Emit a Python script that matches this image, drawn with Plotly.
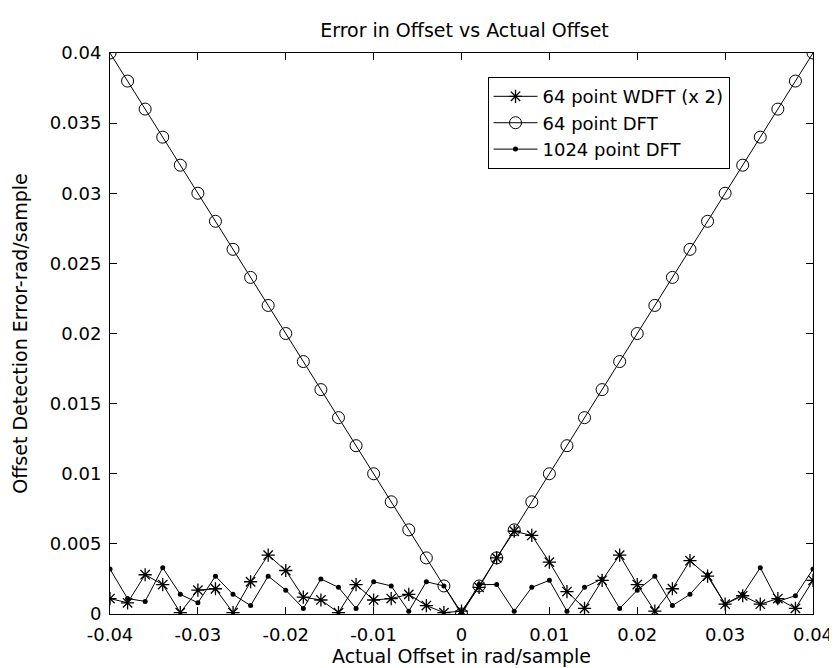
import plotly.graph_objects as go

# x positions (rad/sample)
offsets = [-0.040, -0.038, -0.036, -0.034, -0.032, -0.030, -0.028, -0.026, -0.024, -0.022,
           -0.020, -0.018, -0.016, -0.014, -0.012, -0.010, -0.008, -0.006, -0.004, -0.002,
           0.000, 0.002, 0.004, 0.006, 0.008, 0.010, 0.012, 0.014, 0.016, 0.018,
           0.020, 0.022, 0.024, 0.026, 0.028, 0.030, 0.032, 0.034, 0.036, 0.038, 0.040]

wdft64_x2 = [0.0011, 0.0008, 0.0028, 0.0021, 0.0001, 0.0017, 0.0018, 0.0001, 0.0023, 0.0042,
             0.0031, 0.0012, 0.0010, 0.0001, 0.0021, 0.0010, 0.0011, 0.0014, 0.0006, 0.0001,
             0.0002, 0.0019, 0.0040, 0.0059, 0.0056, 0.0037, 0.0016, 0.0004, 0.0024, 0.0042,
             0.0021, 0.0002, 0.0018, 0.0038, 0.0027, 0.0007, 0.0013, 0.0007, 0.0011, 0.0004, 0.0024]

dft64 = [0.040, 0.038, 0.036, 0.034, 0.032, 0.030, 0.028, 0.026, 0.024, 0.022,
         0.020, 0.018, 0.016, 0.014, 0.012, 0.010, 0.008, 0.006, 0.004, 0.002,
         0.000, 0.002, 0.004, 0.006, 0.008, 0.010, 0.012, 0.014, 0.016, 0.018,
         0.020, 0.022, 0.024, 0.026, 0.028, 0.030, 0.032, 0.034, 0.036, 0.038, 0.040]

dft1024 = [0.0032, 0.0011, 0.0009, 0.0033, 0.0014, 0.0008, 0.0027, 0.0014, 0.0006, 0.0027,
           0.0017, 0.0004, 0.0025, 0.0019, 0.0004, 0.0023, 0.0020, 0.0002, 0.0023, 0.0020,
           0.0001, 0.0021, 0.0021, 0.0002, 0.0019, 0.0024, 0.0002, 0.0019, 0.0025, 0.0004,
           0.0017, 0.0027, 0.0006, 0.0014, 0.0028, 0.0007, 0.0014, 0.0033, 0.0009, 0.0013, 0.0032]

x_tickvals = [-0.04, -0.03, -0.02, -0.01, 0, 0.01, 0.02, 0.03, 0.04]
x_ticktext = ["-0.04", "-0.03", "-0.02", "-0.01", "0", "0.01", "0.02", "0.03", "0.04"]
y_tickvals = [0, 0.005, 0.01, 0.015, 0.02, 0.025, 0.03, 0.035, 0.04]
y_ticktext = ["0", "0.005", "0.01", "0.015", "0.02", "0.025", "0.03", "0.035", "0.04"]

FONT = "DejaVu Sans, Verdana, sans-serif"

fig = go.Figure()
fig.add_trace(go.Scatter(
    x=offsets, y=wdft64_x2, mode="lines+markers", name="64 point WDFT (x 2)",
    line=dict(color="black", width=1),
    marker=dict(symbol="asterisk-open", size=11, color="black", line=dict(color="black", width=1.3)),
))
fig.add_trace(go.Scatter(
    x=offsets, y=dft64, mode="lines+markers", name="64 point DFT",
    line=dict(color="black", width=1),
    marker=dict(symbol="circle-open", size=12, color="black", line=dict(color="black", width=1)),
))
fig.add_trace(go.Scatter(
    x=offsets, y=dft1024, mode="lines+markers", name="1024 point DFT",
    line=dict(color="black", width=1),
    marker=dict(symbol="circle", size=5, color="black"),
))

axis_common = dict(
    showline=True, linecolor="black", linewidth=1, mirror="ticks",
    ticks="inside", ticklen=7, tickcolor="black", tickwidth=1,
    showgrid=False, zeroline=False,
    tickfont=dict(family=FONT, size=18, color="black"),
)

fig.update_layout(
    width=837, height=668,
    margin=dict(l=98, r=22, t=45, b=61),
    paper_bgcolor="white", plot_bgcolor="white",
    font=dict(family=FONT, size=19, color="black"),
    title=dict(text="Error in Offset vs Actual Offset", x=(98 + 815) / 2 / 837, xanchor="center",
               y=1 - 22 / 668, yanchor="middle", font=dict(family=FONT, size=19, color="black")),
    xaxis=dict(range=[-0.04, 0.04], tickvals=x_tickvals, ticktext=x_ticktext,
               ticklabelstandoff=4,
               title=dict(text="Actual Offset in rad/sample", standoff=6,
                          font=dict(family=FONT, size=19, color="black")),
               **axis_common),
    yaxis=dict(range=[0, 0.04], tickvals=y_tickvals, ticktext=y_ticktext,
               ticklabelstandoff=4,
               title=dict(text="Offset Detection Error-rad/sample", standoff=17,
                          font=dict(family=FONT, size=19, color="black")),
               **axis_common),
    legend=dict(x=0.537, y=0.957, xanchor="left", yanchor="top",
                bgcolor="white", bordercolor="black", borderwidth=1,
                font=dict(family=FONT, size=18, color="black"),
                itemwidth=44, tracegroupgap=0),
    showlegend=True,
)

fig.write_html("out.html")
